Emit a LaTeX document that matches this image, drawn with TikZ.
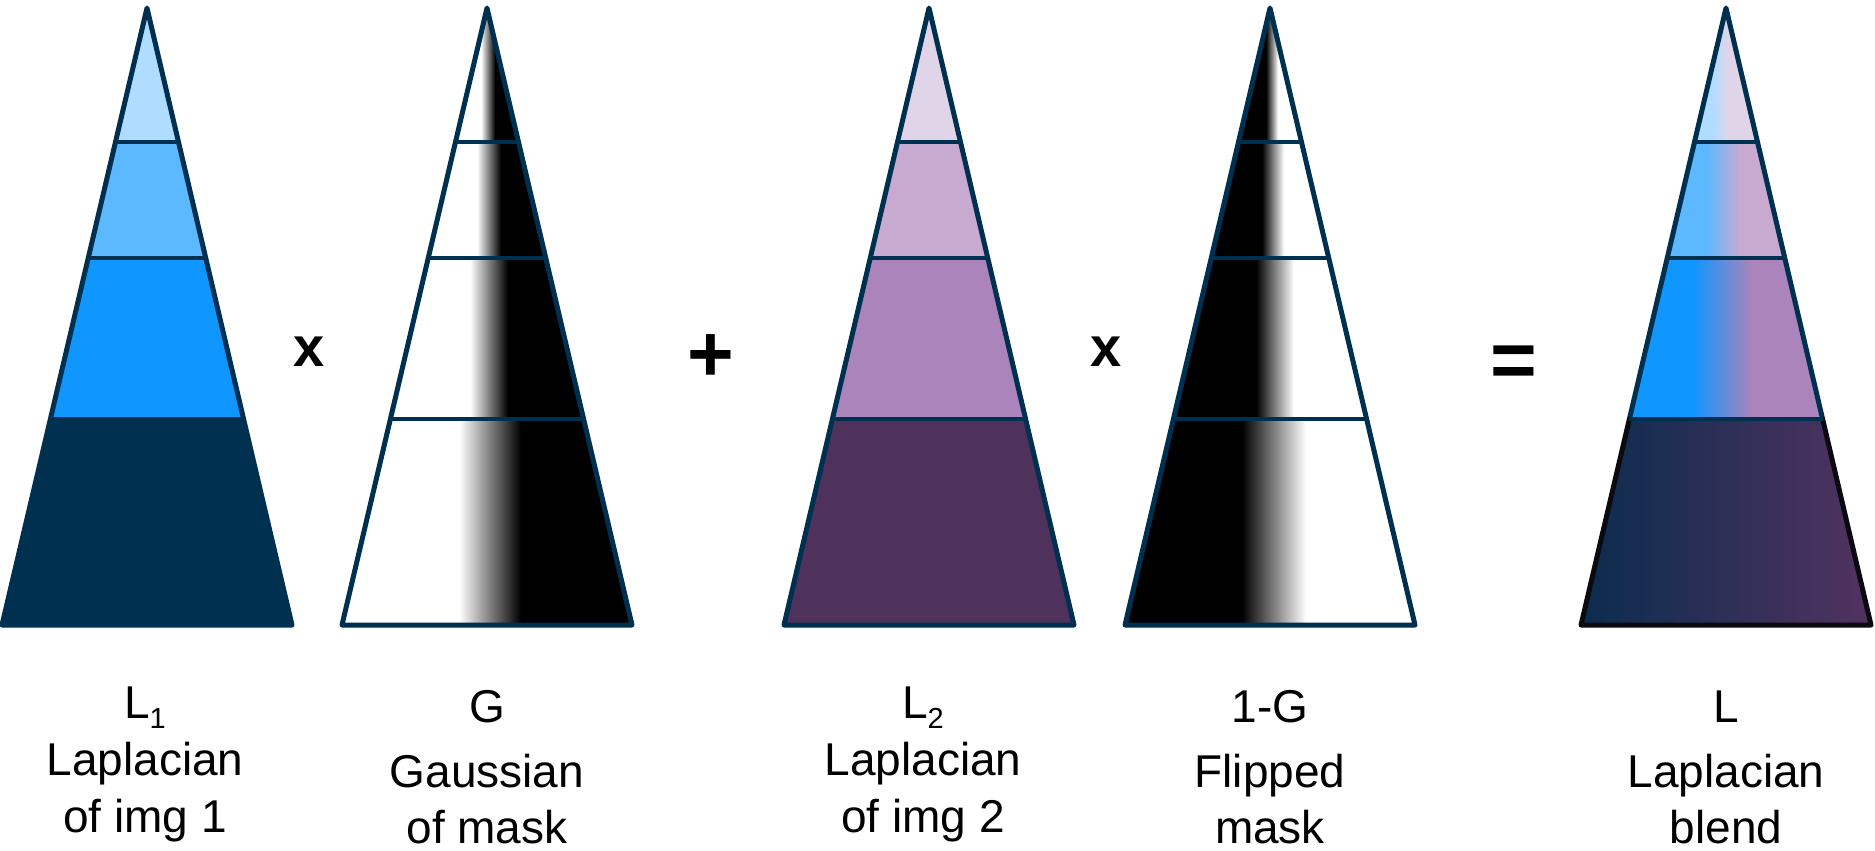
\documentclass[tikz,border=0pt]{standalone}
\usepackage{fontspec}
\setmainfont{Liberation Sans}
\definecolor{navy}{HTML}{003050}
\definecolor{la}{HTML}{B0DCFF}
\definecolor{lb}{HTML}{5CB8FF}
\definecolor{lc}{HTML}{0F96FF}
\definecolor{ld}{HTML}{003050}
\definecolor{pa}{HTML}{E0D4E8}
\definecolor{pb}{HTML}{C8AAD0}
\definecolor{pc}{HTML}{AA84BA}
\definecolor{pd}{HTML}{4F325C}
\definecolor{blL}{HTML}{0A2C4E}
\definecolor{blR}{HTML}{523260}
\definecolor{dk}{HTML}{0A0A10}
\def\bandA{(0,8) -- (31.5,142) -- (-31.5,142) -- cycle}
\def\bandB{(-31.5,142) -- (31.5,142) -- (58.8,258) -- (-58.8,258) -- cycle}
\def\bandC{(-58.8,258) -- (58.8,258) -- (96.6,419) -- (-96.6,419) -- cycle}
\def\bandD{(-96.6,419) -- (96.6,419) -- (145,625) -- (-145,625) -- cycle}
% #1 band path, #2 ytop, #3 ybot, #4 left colour, #5 right colour, #6 centre, #7 half width
\newcommand\gradband[7]{%
  \begin{scope}
    \clip #1;
    \fill[#4] (-150,#2) rectangle (150,#3);
    \fill[#5] (#6+#7-0.5,#2) rectangle (150,#3);
    \shade[left color=#4,right color=#5] (#6-#7,#2) rectangle (#6+#7,#3);
  \end{scope}}
\newcommand\pyrlines{%
  \draw[bandline] (-31.5,142) -- (31.5,142);
  \draw[bandline] (-58.8,258) -- (58.8,258);
  \draw[bandline] (-96.6,419) -- (96.6,419);
  \draw[outl] (0,8) -- (145,625) -- (-145,625) -- cycle;}
\tikzset{
  outl/.style={draw=navy, line width=5pt, line join=round, line cap=round},
  bandline/.style={draw=navy, line width=4.5pt},
  lbl/.style={font=\fontsize{46}{46}\selectfont, anchor=base, inner sep=0pt},
  opbig/.style={font=\bfseries\fontsize{80}{80}\selectfont, anchor=base, inner sep=0pt},
  opx/.style={font=\bfseries\fontsize{56}{56}\selectfont, anchor=base, inner sep=0pt},
}
\newcommand\subs[1]{\raisebox{-10pt}{\fontsize{29}{29}\selectfont #1}}
\begin{document}
\begin{tikzpicture}[x=1pt,y=-1pt]
\useasboundingbox (0,0) rectangle (1875,851);
% L1
\begin{scope}[shift={(147,0)}]
  \fill[la] \bandA; \fill[lb] \bandB; \fill[lc] \bandC; \fill[ld] \bandD;
  \pyrlines
\end{scope}
% G
\begin{scope}[shift={(487,0)}]
  \gradband{\bandA}{0}{142}{white}{black}{1}{7}
  \gradband{\bandB}{142}{258}{white}{black}{2}{12}
  \gradband{\bandC}{258}{419}{white}{black}{2}{19}
  \gradband{\bandD}{419}{630}{white}{black}{3}{31}
  \pyrlines
\end{scope}
% L2
\begin{scope}[shift={(929,0)}]
  \fill[pa] \bandA; \fill[pb] \bandB; \fill[pc] \bandC; \fill[pd] \bandD;
  \pyrlines
\end{scope}
% 1-G
\begin{scope}[shift={(1270,0)}]
  \gradband{\bandA}{0}{142}{black}{white}{2}{6}
  \gradband{\bandB}{142}{258}{black}{white}{3}{11}
  \gradband{\bandC}{258}{419}{black}{white}{5}{19}
  \gradband{\bandD}{419}{630}{black}{white}{4}{32}
  \pyrlines
\end{scope}
% L blend
\begin{scope}[shift={(1726,0)}]
  \gradband{\bandA}{0}{142}{la}{pa}{-6}{8}
  \gradband{\bandB}{142}{258}{lb}{pb}{-3}{17}
  \gradband{\bandC}{258}{419}{lc}{pc}{-4}{29}
  \shade[left color=blL,right color=blR] \bandD;
  \draw[bandline] (-31.5,142) -- (31.5,142);
  \draw[bandline] (-58.8,258) -- (58.8,258);
  \draw[outl] (-96.6,419) -- (0,8) -- (96.6,419);
  \draw[outl,draw=dk] (96.6,419) -- (145,625) -- (-145,625) -- (-96.6,419);
  \draw[bandline] (-96.6,419) -- (96.6,419);
\end{scope}
% operators
\node[opx] (times1) at (309,366) {x};
\node[opbig] (plus) at (711,381) {+};
\node[opx] (times2) at (1106,366) {x};
\node[opbig] (equals) at (1514,387) {=};
% labels
\node[lbl] (t1a) at (145,718) {L\subs{1}};
\node[lbl] (t1b) at (145,775) {Laplacian};
\node[lbl] (t1c) at (145,832) {of img 1};
\node[lbl] (t2a) at (487,722) {G};
\node[lbl] (t2b) at (487,787) {Gaussian};
\node[lbl] (t2c) at (487,843) {of mask};
\node[lbl] (t3a) at (923,718) {L\subs{2}};
\node[lbl] (t3b) at (923,775) {Laplacian};
\node[lbl] (t3c) at (923,832) {of img 2};
\node[lbl] (t4a) at (1270,722) {1-G};
\node[lbl] (t4b) at (1270,787) {Flipped};
\node[lbl] (t4c) at (1270,843) {mask};
\node[lbl] (t5a) at (1726,722) {L};
\node[lbl] (t5b) at (1726,787) {Laplacian};
\node[lbl] (t5c) at (1726,843) {blend};
\end{tikzpicture}
\end{document}
